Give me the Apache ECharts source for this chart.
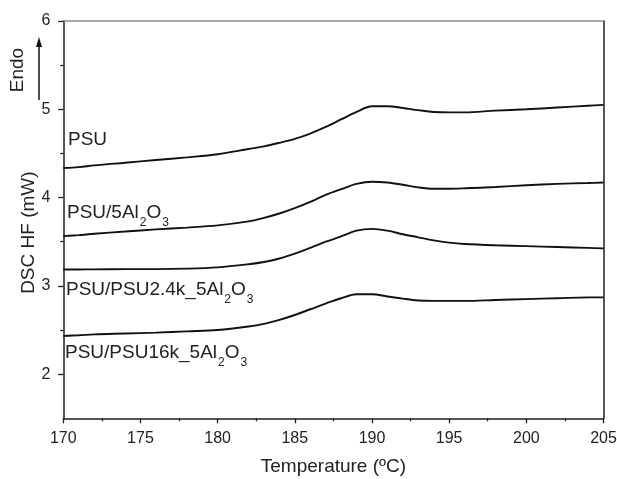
<!DOCTYPE html>
<html>
<head>
<meta charset="utf-8">
<script src="https://cdn.jsdelivr.net/npm/echarts@6/dist/echarts.min.js"></script>
<style>
html,body{margin:0;padding:0;background:#fff;}
#chart{width:617px;height:479px;}
</style>
</head>
<body>
<div id="chart"></div>
<script>
// Temperature (°C) sample points
var temps = [170, 171, 172, 174, 176, 178, 180, 182, 183, 184, 185, 186, 187, 188, 189, 190, 191, 192, 193, 194, 195, 196, 198, 200, 202, 204, 205];

// DSC heat flow (mW) for each sample
var psu = [4.335, 4.345, 4.365, 4.395, 4.425, 4.455, 4.49, 4.55, 4.58, 4.62, 4.665, 4.725, 4.80, 4.885, 4.97, 5.035, 5.035, 5.015, 4.99, 4.97, 4.965, 4.965, 4.985, 5.00, 5.02, 5.04, 5.05];
var psu5Al2O3 = [3.563, 3.575, 3.59, 3.615, 3.64, 3.66, 3.685, 3.73, 3.77, 3.82, 3.88, 3.95, 4.03, 4.095, 4.155, 4.18, 4.17, 4.145, 4.115, 4.10, 4.10, 4.105, 4.12, 4.14, 4.155, 4.165, 4.17];
var psuPsu24k = [3.186, 3.186, 3.187, 3.19, 3.19, 3.195, 3.21, 3.245, 3.27, 3.31, 3.365, 3.43, 3.50, 3.56, 3.625, 3.645, 3.625, 3.585, 3.55, 3.515, 3.49, 3.475, 3.46, 3.45, 3.44, 3.43, 3.425];
var psuPsu16k = [2.433, 2.44, 2.45, 2.46, 2.47, 2.485, 2.50, 2.54, 2.57, 2.615, 2.67, 2.735, 2.80, 2.86, 2.905, 2.905, 2.88, 2.855, 2.835, 2.83, 2.83, 2.83, 2.84, 2.85, 2.86, 2.87, 2.87];

var seriesNames = ['PSU', 'PSU/5Al2O3', 'PSU/PSU2.4k_5Al2O3', 'PSU/PSU16k_5Al2O3'];
var seriesValues = [psu, psu5Al2O3, psuPsu24k, psuPsu16k];

// tick values
var xMin = 170, xMax = 205, xStep = 5;
var yMin = 1.5, yMax = 6;
var yMajorTicks = [2, 3, 4, 5, 6];
var yMinorTicks = [2.5, 3.5, 4.5, 5.5];

var chart = echarts.init(document.getElementById('chart'), null, {renderer: 'canvas'});

function pairs(vals) {
  return temps.map(function (t, i) { return [t, vals[i]]; });
}

var ink = '#1e1e1e';
var font = 'Liberation Sans, Arial, sans-serif';

var series = seriesValues.map(function (vals, i) {
  return {
    name: seriesNames[i],
    type: 'line',
    data: pairs(vals),
    smooth: 0.35,
    showSymbol: false,
    symbol: 'none',
    lineStyle: {color: '#111', width: 1.9},
    z: 3
  };
});

var subRich = {
  sub: {fontSize: 12, fontFamily: font, fill: '#222', padding: [20, 0, 0, 1]}
};

function label(x, y, text) {
  return {
    type: 'text', x: x, y: y,
    style: {
      text: text, fontSize: 19, fontFamily: font, fill: '#222',
      align: 'left', verticalAlign: 'middle', rich: subRich
    }
  };
}

var option = {
  backgroundColor: '#fff',
  animation: false,
  grid: {left: 63.3, right: 13.5, top: 21, bottom: 60.7, show: false, containLabel: false, outerBoundsMode: 'none'},
  xAxis: [{
    type: 'value', min: xMin, max: xMax, interval: xStep,
    name: 'Temperature (ºC)', nameLocation: 'middle', nameGap: 39, nameMoveOverlap: false,
    nameTextStyle: {fontSize: 19, fontFamily: font, color: '#222'},
    axisLine: {show: true, lineStyle: {color: ink, width: 1.5}},
    axisTick: {show: true, length: 5, lineStyle: {color: ink, width: 1.3}},
    minorTick: {show: true, splitNumber: 2, length: 3, lineStyle: {color: ink, width: 1.3}},
    axisLabel: {fontSize: 16, fontFamily: font, color: '#222', margin: 12},
    splitLine: {show: false}
  }, {
    type: 'value', min: xMin, max: xMax, position: 'top',
    axisLine: {show: true, lineStyle: {color: '#8a8a8a', width: 1.5}},
    axisTick: {show: false}, axisLabel: {show: false}, splitLine: {show: false}
  }],
  yAxis: [{
    type: 'value', min: yMin, max: yMax,
    name: 'DSC HF (mW)', nameLocation: 'middle', nameGap: 25, nameRotate: 90, nameMoveOverlap: false,
    nameTextStyle: {fontSize: 19, fontFamily: font, color: '#222', padding: [0, 26, 0, 0]},
    axisLine: {show: true, lineStyle: {color: ink, width: 1.5}},
    axisTick: {show: true, length: 5, customValues: yMajorTicks, lineStyle: {color: ink, width: 1.3}},
    axisLabel: {fontSize: 16, fontFamily: font, color: '#222', margin: 13, customValues: yMajorTicks},
    splitLine: {show: false}
  }, {
    type: 'value', min: yMin, max: yMax, position: 'left',
    axisLine: {show: false},
    axisTick: {show: true, length: 3, customValues: yMinorTicks, lineStyle: {color: ink, width: 1.3}},
    axisLabel: {show: false},
    splitLine: {show: false}
  }, {
    type: 'value', min: yMin, max: yMax, position: 'right',
    axisLine: {show: true, lineStyle: {color: ink, width: 1.5}},
    axisTick: {show: false}, axisLabel: {show: false}, splitLine: {show: false}
  }],
  series: series,
  graphic: [
    {
      type: 'text', x: 18, y: 70, rotation: Math.PI / 2,
      style: {text: 'Endo', fontSize: 19, fontFamily: font, fill: '#222', align: 'center', verticalAlign: 'middle'}
    },
    {
      type: 'line', shape: {x1: 39, y1: 100, x2: 39, y2: 44},
      style: {stroke: '#111', lineWidth: 1.5}
    },
    {
      type: 'polygon', shape: {points: [[39, 37], [36, 47], [42, 47]]},
      style: {fill: '#111'}
    },
    label(68, 140, 'PSU'),
    label(67, 213, 'PSU/5Al{sub|2}O{sub|3}'),
    label(66, 290, 'PSU/PSU2.4k_5Al{sub|2}O{sub|3}'),
    label(65, 353, 'PSU/PSU16k_5Al{sub|2}O{sub|3}')
  ]
};

chart.setOption(option);
</script>
</body>
</html>
